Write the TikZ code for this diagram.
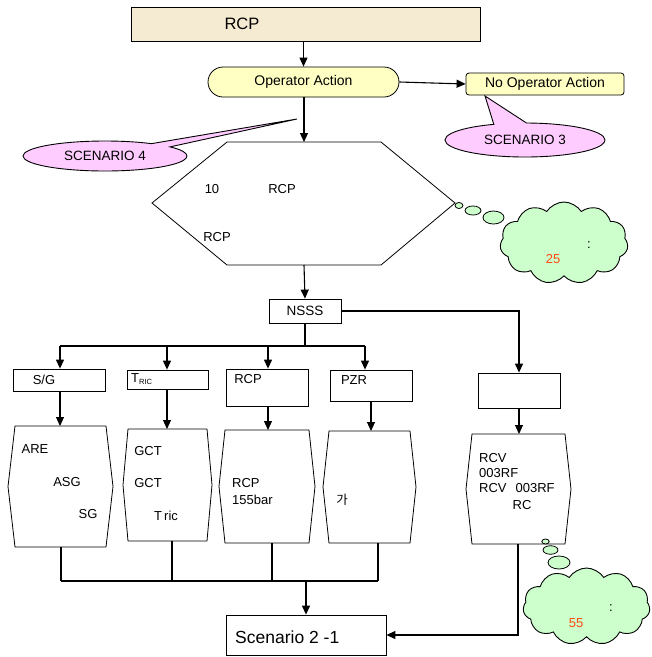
\documentclass[tikz,border=0pt]{standalone}
\usepackage{fontspec}
\setmainfont{Liberation Sans}
\newfontfamily\krfont{Noto Sans CJK KR}
\usetikzlibrary{arrows.meta,shapes.symbols,shapes.callouts,shapes.geometric}
\definecolor{beige}{HTML}{F5EAD2}
\definecolor{lyel}{HTML}{FFFFC4}
\definecolor{lpink}{HTML}{FFCCFF}
\definecolor{lgreen}{HTML}{CCFFCC}
\definecolor{orng}{HTML}{FF4A10}
\tikzset{
  arr/.style={line width=1.1pt,-{Triangle[length=9pt,width=8pt]}},
  conn/.style={line width=1.1pt},
  boxline/.style={draw=black,line width=0.8pt},
  plainbox/.style={boxline,fill=white,rectangle,inner sep=0pt},
  txt/.style={inner sep=0pt,font=\fontsize{13}{15}\selectfont},
  callo/.style={ellipse callout,draw=black,line width=0.9pt,fill=lpink,inner sep=0pt,
     font=\fontsize{13.5}{15}\selectfont},
  cloudy/.style={cloud,cloud puffs=11,cloud puff arc=115,draw=black,line width=0.9pt,fill=lgreen,inner sep=0pt},
  bubble/.style={ellipse,draw=black,line width=0.8pt,fill=lgreen,inner sep=0pt},
}
\newcommand\octbox[6]{%
  \draw[boxline,fill=white] (#2,#4) -- (#3,#4) -- ({#3+#6},{(#4+#5)/2}) -- (#3,#5) -- (#2,#5) -- ({#2-#6},{(#4+#5)/2}) -- cycle;
}
\begin{document}
\begin{tikzpicture}[x=1pt,y=-1pt]
\useasboundingbox (0,0) rectangle (652,657);
\fill[white] (0,0) rectangle (652,657);
% top box
\node[boxline,fill=beige,rectangle,minimum width=349pt,minimum height=34pt,inner sep=0pt] (rcp) at (305.5,24) {};
\node[inner sep=0pt,font=\fontsize{16.5}{18}\selectfont] (rcpt) at (242,24) {RCP};
% operator action
\node[boxline,fill=lyel,rectangle,rounded corners=15pt,minimum width=191pt,minimum height=30pt,inner sep=0pt,font=\fontsize{14}{15}\selectfont] (op) at (303.5,82) {Operator Action};
\node[boxline,fill=lyel,rectangle,rounded corners=3pt,minimum width=158pt,minimum height=22pt,inner sep=0pt,font=\fontsize{14}{15}\selectfont] (noop) at (545,84) {No Operator Action};
\draw[arr] (rcp.south -| op.north) -- (op.north);
\draw[arr] (op.east) -- (noop.west);
% callouts
\node[callo,callout pointer arc=24,minimum width=160pt,minimum height=34pt,callout absolute pointer={(485,96)}] (sc3) at (525,140) {SCENARIO 3};
\node[callo,callout pointer arc=18,minimum width=164pt,minimum height=30pt,callout absolute pointer={(297,119)}] (sc4) at (105,156) {SCENARIO 4};
% hexagon
\draw[boxline,fill=white] (227,142) -- (381,142) -- (455,203) -- (381,265) -- (227,265) -- (152,203) -- cycle;
\coordinate (hexT) at (304,142);
\coordinate (hexB) at (304,265);
\draw[arr] (op.south -| hexT) -- (hexT);
\node[txt] (h1) at (212,189) {10};
\node[txt] (h2) at (282,189) {RCP};
\node[txt] (h3) at (217,237) {RCP};
% thought bubbles top
\node[bubble,minimum width=8pt,minimum height=6pt] (tb1) at (459,205.5) {};
\node[bubble,minimum width=16pt,minimum height=9pt] (tb2) at (473,210.5) {};
\node[bubble,minimum width=21pt,minimum height=13pt] (tb3) at (493.5,217.5) {};
\node[cloudy,minimum width=128pt,minimum height=82pt] (cl1) at (564,243) {};
\node[txt] (cl1a) at (589,245) {:};
\node[txt,text=orng] (cl1b) at (553,259) {25};
% NSSS
\node[plainbox,minimum width=72pt,minimum height=24pt,font=\fontsize{13.5}{15}\selectfont] (nsss) at (305,311) {NSSS};
\draw[arr] (hexB) -- (nsss.north);
% small boxes
\node[plainbox,minimum width=92pt,minimum height=22pt] (sg) at (59,380) {};
\node[txt] (sgt) at (44,380) {S/G};
\node[plainbox,minimum width=81pt,minimum height=19pt] (tric) at (167.5,379.5) {};
\node[txt,anchor=west] (trict) at (131,379) {T\raisebox{-2.5pt}{\fontsize{7.5}{8}\selectfont RIC}};
\node[plainbox,minimum width=82pt,minimum height=37pt] (rcpb) at (267,387.5) {};
\node[txt] (rcpbt) at (248,379) {RCP};
\node[plainbox,minimum width=82pt,minimum height=31pt] (pzr) at (371,385.5) {};
\node[txt] (pzrt) at (354,380) {PZR};
\node[plainbox,minimum width=82pt,minimum height=35pt] (emp) at (519,390.5) {};
% bus
\coordinate (busm) at (305,346);
\coordinate (bus1) at (60,346);
\coordinate (bus2) at (167,346);
\coordinate (bus3) at (268,346);
\coordinate (bus4) at (365,346);
\draw[conn] (nsss.south) -- (busm);
\draw[conn] (bus1) -- (bus4);
\draw[arr] (bus1) -- (bus1 |- sg.north);
\draw[arr] (bus2) -- (bus2 |- tric.north);
\draw[arr] (bus3) -- (bus3 |- rcpb.north);
\draw[arr] (bus4) -- (bus4 |- pzr.north);
\draw[arr] (nsss.east) -| (emp.north);
% octagon boxes
\octbox{b1}{15}{106}{426}{547}{7}
\octbox{b2}{128}{207}{429}{541}{5}
\octbox{b3}{225}{309}{430}{543}{6}
\octbox{b4}{329}{410}{431}{543}{6}
\octbox{b5}{472}{565}{434}{544}{6}
\coordinate (b1n) at (60,426);
\coordinate (b2n) at (167,429);
\coordinate (b3n) at (268,430);
\coordinate (b4n) at (371,431);
\coordinate (b5n) at (519,434);
\draw[arr] (sg.south -| b1n) -- (b1n);
\draw[arr] (tric.south -| b2n) -- (b2n);
\draw[arr] (rcpb.south -| b3n) -- (b3n);
\draw[arr] (pzr.south -| b4n) -- (b4n);
\draw[arr] (emp.south -| b5n) -- (b5n);
% box texts
\node[txt] (t11) at (35,449) {ARE};
\node[txt] (t12) at (67,482) {ASG};
\node[txt] (t13) at (88,514) {SG};
\node[txt] (t21) at (148,451) {GCT};
\node[txt] (t22) at (148,483) {GCT};
\node[txt] (t23) at (166,516) {T\,ric};
\node[txt,anchor=west] (t31) at (232,483) {RCP};
\node[txt,anchor=west] (t32) at (232,500) {155bar};
\node[txt,font=\krfont\fontsize{12.5}{14}\selectfont] (t41) at (342,500) {가};
\node[txt,anchor=west] (t51) at (479,458) {RCV};
\node[txt,anchor=west] (t52) at (479,473) {003RF};
\node[txt,anchor=west] (t53) at (479,488) {RCV\hspace{9pt}003RF};
\node[txt] (t54) at (522,505) {RC};
% bottom bubbles
\node[bubble,minimum width=7.5pt,minimum height=5pt] (bb1) at (545.5,541.5) {};
\node[bubble,minimum width=15pt,minimum height=8.5pt] (bb2) at (550.5,550) {};
\node[bubble,minimum width=22pt,minimum height=13pt] (bb3) at (559,562.5) {};
\node[cloudy,minimum width=127pt,minimum height=77pt] (cl2) at (586.5,606.5) {};
\node[txt] (cl2a) at (611,608) {:};
\node[txt,text=orng] (cl2b) at (576,623) {55};
% scenario box
\node[plainbox,minimum width=160pt,minimum height=40pt] (scen) at (306,635) {};
\node[inner sep=0pt,anchor=west,font=\fontsize{17.5}{20}\selectfont] (scent) at (235,637) {Scenario 2 -1};
\coordinate (j1) at (61,581);
\coordinate (j2) at (172,581);
\coordinate (j3) at (272,581);
\coordinate (j4) at (378,581);
\coordinate (jm) at (306,581);
\coordinate (b1s) at (61,547);
\coordinate (b2s) at (172,541);
\coordinate (b3s) at (272,543);
\coordinate (b4s) at (378,543);
\coordinate (b5s) at (518,544);
\draw[conn] (b1s) -- (j1);
\draw[conn] (b2s) -- (j2);
\draw[conn] (b3s) -- (j3);
\draw[conn] (b4s) -- (j4);
\draw[conn] (j1) -- (j4);
\draw[arr] (jm) -- (scen.north);
\draw[arr] (b5s) |- (scen.east);
\end{tikzpicture}
\end{document}
